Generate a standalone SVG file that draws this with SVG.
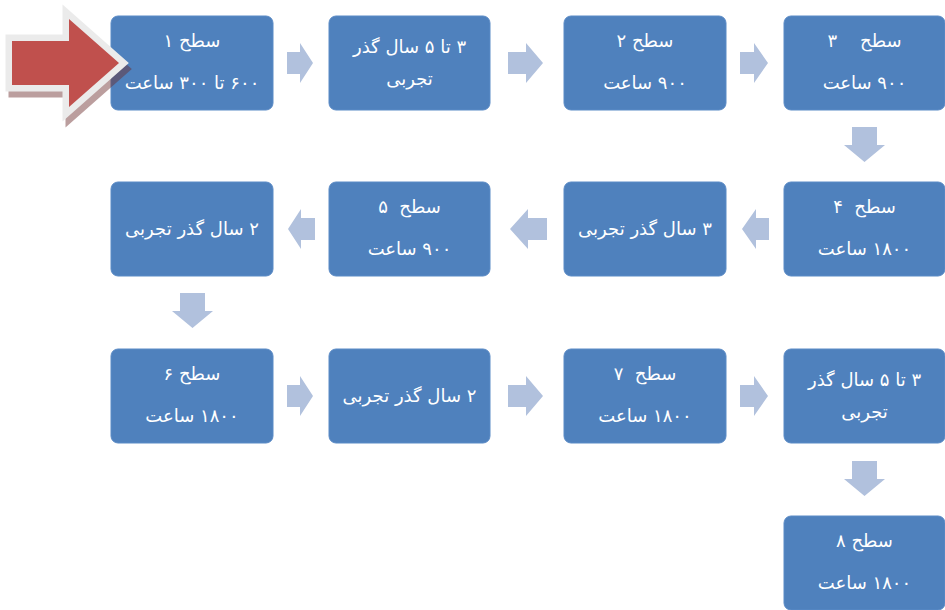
<svg xmlns="http://www.w3.org/2000/svg" width="945" height="610" viewBox="0 0 945 610">
  <style>
    .box { fill: #4F81BD; stroke: #5B8BC6; stroke-width: 1; }
    .t { fill: #FFFFFF; font-family: "DejaVu Sans", "Noto Sans", sans-serif; font-size: 18px; text-anchor: middle; direction: rtl; unicode-bidi: embed; white-space: pre; }
    .conn polygon { fill: #B1C1DD; }
  </style>
  <defs>
    <polygon id="bigArrow" points="12,41 69,41 69,19 119,63 69,107 69,85 12,85"/>
  </defs>

  <g id="connectors" class="conn">
    <polygon points="287,52 300,52 300,43 313,63 300,83 300,74 287,74"/>
    <polygon points="508,52 526,52 526,43 543,63 526,83 526,74 508,74"/>
    <polygon points="740,52 754,52 754,43 768,63 754,83 754,74 740,74"/>
    <polygon points="852,127 877,127 877,145 885,145 864.5,162 844,145 852,145"/>
    <polygon points="769,218 756,218 756,209 742,229 756,249 756,240 769,240"/>
    <polygon points="547,218 528,218 528,209 510,229 528,249 528,240 547,240"/>
    <polygon points="315,218 301,218 301,209 288,229 301,249 301,240 315,240"/>
    <polygon points="180,293 205,293 205,311 213,311 192.5,328 172,311 180,311"/>
    <polygon points="287,385 300,385 300,376 313,396 300,416 300,407 287,407"/>
    <polygon points="508,385 526,385 526,376 543,396 526,416 526,407 508,407"/>
    <polygon points="740,385 754,385 754,376 768,396 754,416 754,407 740,407"/>
    <polygon points="852,461 877,461 877,479 885,479 864.5,496 844,479 852,479"/>
  </g>

  <g id="n1">
    <rect class="box" x="111" y="16" width="162" height="94" rx="7"/>
    <text class="t" x="192" y="47">سطح ۱</text>
    <text class="t" x="192" y="89">۶۰۰ تا ۳۰۰ ساعت</text>
  </g>
  <g id="n2">
    <rect class="box" x="329" y="16" width="161" height="94" rx="7"/>
    <text class="t" x="409.5" y="53">۳ تا ۵ سال گذر</text>
    <text class="t" x="409.5" y="85">تجربی</text>
  </g>
  <g id="n3">
    <rect class="box" x="564" y="16" width="162" height="94" rx="7"/>
    <text class="t" x="645" y="47">سطح ۲</text>
    <text class="t" x="645" y="89">۹۰۰ ساعت</text>
  </g>
  <g id="n4">
    <rect class="box" x="784" y="16" width="161" height="94" rx="7"/>
    <text class="t" x="864.5" y="47" xml:space="preserve">سطح    ۳</text>
    <text class="t" x="864.5" y="89">۹۰۰ ساعت</text>
  </g>
  <g id="n5">
    <rect class="box" x="784" y="182" width="161" height="94" rx="7"/>
    <text class="t" x="864.5" y="213" xml:space="preserve">سطح  ۴</text>
    <text class="t" x="864.5" y="255">۱۸۰۰ ساعت</text>
  </g>
  <g id="n6">
    <rect class="box" x="564" y="182" width="162" height="94" rx="7"/>
    <text class="t" x="645" y="235">۳ سال گذر تجربی</text>
  </g>
  <g id="n7">
    <rect class="box" x="329" y="182" width="161" height="94" rx="7"/>
    <text class="t" x="409.5" y="213" xml:space="preserve">سطح  ۵</text>
    <text class="t" x="409.5" y="255">۹۰۰ ساعت</text>
  </g>
  <g id="n8">
    <rect class="box" x="111" y="182" width="162" height="94" rx="7"/>
    <text class="t" x="192" y="235">۲ سال گذر تجربی</text>
  </g>
  <g id="n9">
    <rect class="box" x="111" y="349" width="162" height="94" rx="7"/>
    <text class="t" x="192" y="380">سطح ۶</text>
    <text class="t" x="192" y="422">۱۸۰۰ ساعت</text>
  </g>
  <g id="n10">
    <rect class="box" x="329" y="349" width="161" height="94" rx="7"/>
    <text class="t" x="409.5" y="402">۲ سال گذر تجربی</text>
  </g>
  <g id="n11">
    <rect class="box" x="564" y="349" width="162" height="94" rx="7"/>
    <text class="t" x="645" y="380" xml:space="preserve">سطح  ۷</text>
    <text class="t" x="645" y="422">۱۸۰۰ ساعت</text>
  </g>
  <g id="n12">
    <rect class="box" x="784" y="349" width="161" height="94" rx="7"/>
    <text class="t" x="864.5" y="386">۳ تا ۵ سال گذر</text>
    <text class="t" x="864.5" y="418">تجربی</text>
  </g>
  <g id="n13">
    <rect class="box" x="784" y="516" width="161" height="94" rx="7"/>
    <text class="t" x="864.5" y="547">سطح ۸</text>
    <text class="t" x="864.5" y="589">۱۸۰۰ ساعت</text>
  </g>

  <g id="start-arrow">
    <use href="#bigArrow" transform="translate(3,6)" fill="#6B2A2A" stroke="#6B2A2A" stroke-width="13" stroke-linejoin="miter" opacity="0.45"/>
    <use href="#bigArrow" fill="#C0504D" stroke="#EBEBEB" stroke-width="13" stroke-linejoin="miter" paint-order="stroke"/>
  </g>
</svg>
